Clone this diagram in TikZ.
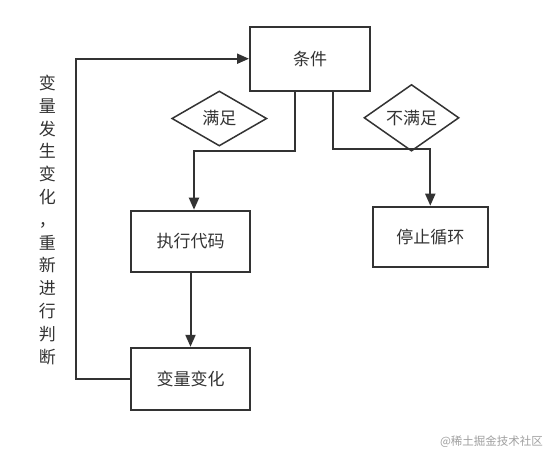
\documentclass[tikz,border=0pt]{standalone}
\usepackage{fontspec}
\setmainfont{Noto Sans CJK SC}
\usetikzlibrary{shapes.geometric,arrows.meta}
\definecolor{ink}{HTML}{333333}
\definecolor{wmgray}{HTML}{A0A0A0}
\begin{document}
\begin{tikzpicture}[x=1pt,y=-1pt,
  box/.style={draw=ink, line width=2pt, minimum width=119pt, minimum height=61pt, inner sep=0pt, font=\fontsize{17}{20}\selectfont, text=ink},
  cond/.style={diamond, draw=ink, line width=1.5pt, minimum width=95pt, minimum height=55pt, inner sep=0pt, font=\fontsize{17}{20}\selectfont, text=ink},
  conn/.style={draw=ink, line width=2pt},
  arr/.style={conn, -{Triangle[length=12pt,width=10pt]}}]
\useasboundingbox (0,0) rectangle (557,453);
\fill[white] (0,0) rectangle (557,453);
% nodes
\node[box, minimum width=120pt, minimum height=64pt] (tj) at (310,58.7) {条件};
\node[cond] (ok) at (219.3,118.5) {满足};
\node[cond] (nok) at (411.5,117.8) {不满足};
\node[box] (exec) at (190.5,241.2) {执行代码};
\node[box, minimum width=115pt, minimum height=60pt] (stop) at (430.3,236.7) {停止循环};
\node[box, minimum height=62pt] (var) at (190.5,378.8) {变量变化};
\node[text=ink, align=center, inner sep=0pt, font=\fontsize{17}{22.8}\selectfont] (side) at (47.3,219.7)
  {变\\量\\发\\生\\变\\化\\，\\重\\新\\进\\行\\判\\断};
\node[text=wmgray, inner sep=0pt, font=\fontsize{11.5}{13}\selectfont] (wm) at (491.5,442) {@稀土掘金技术社区};
% coordinates
\coordinate (b1) at (295,150.7);
\coordinate (b2) at (194,150.7);
\coordinate (b3) at (332.7,148.7);
\coordinate (b4) at (430.3,148.7);
\coordinate (l2) at (75.7,58.7);
% connectors
\draw[arr] (tj.south -| b1) -- (b1) -- (b2) -- (exec.north -| b2);
\draw[arr] (tj.south -| b3) -- (b3) -- (b4) -- (stop.north -| b4);
\draw[arr] (exec.south) -- (var.north);
\draw[arr] (var.west) -| (l2) -- (tj.west);
\end{tikzpicture}
\end{document}
